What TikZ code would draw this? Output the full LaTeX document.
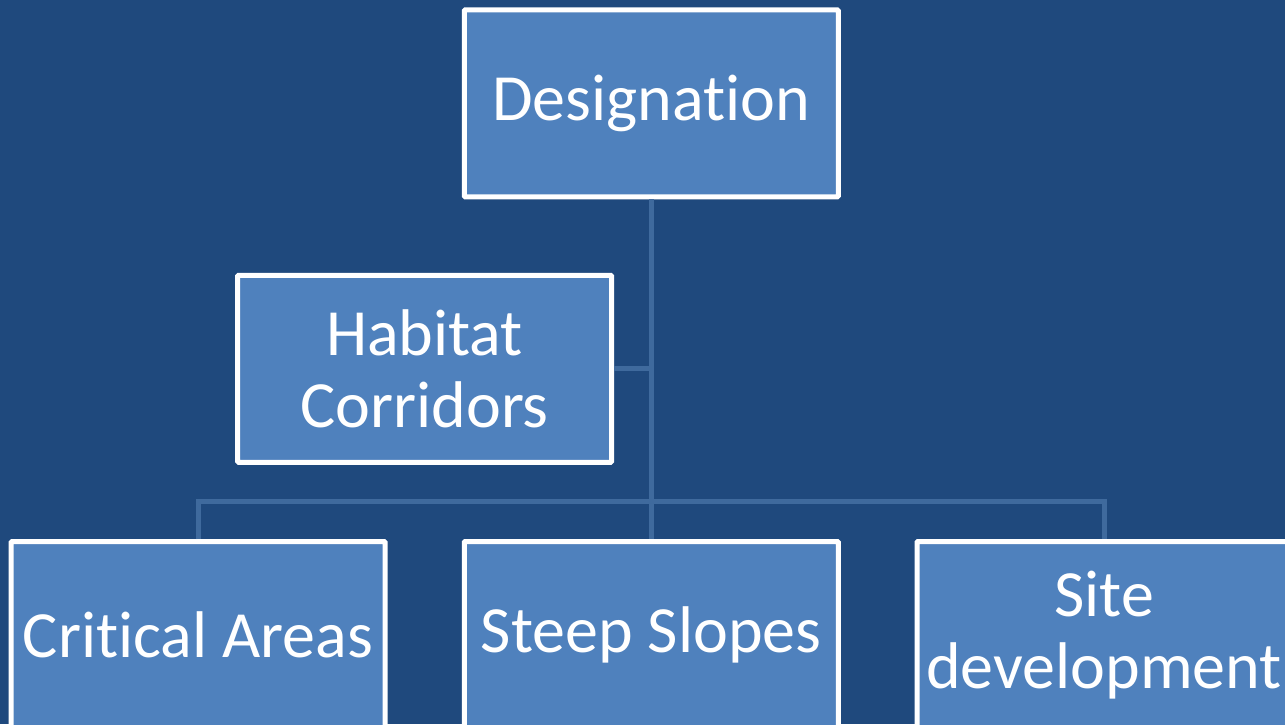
\documentclass[tikz,border=0pt]{standalone}
\usepackage{fontspec}
\setmainfont[Ligatures=CommonOff]{Carlito}
\definecolor{bgblue}{HTML}{1F497D}
\definecolor{boxblue}{HTML}{4F81BD}
\definecolor{connblue}{HTML}{3F6A9D}
\tikzset{
  orgbox/.style={draw=white, fill=boxblue, line width=5pt, minimum width=374pt,
    minimum height=187pt, inner sep=0pt, text=white, align=center,
    font=\fontsize{66}{72.6}\selectfont, rounded corners=1pt},
  conn/.style={draw=connblue, line width=5pt}
}
\begin{document}
\begin{tikzpicture}[x=1pt,y=-1pt]
\useasboundingbox (0,0) rectangle (1285,724);
\fill[bgblue] (0,0) rectangle (1285,724);
\clip (0,0) rectangle (1285,724);
\coordinate (bus) at (651.25,501.7);
\node[orgbox] (des) at (651.25,103.3) {Designation};
\node[orgbox] (hab) at (424.6,368.8) {Habitat\\Corridors};
\node[orgbox] (crit) at (198.1,635) {Critical Areas};
\node[orgbox] (steep) at (651.25,635) {Steep Slopes};
\node[orgbox] (site) at (1104,635) {Site\\development};
\draw[conn] (des.south) -- (steep.north);
\draw[conn] (hab.east) -- (hab.east -| des.south);
\draw[conn] (crit.north) |- (bus) -| (site.north);
\end{tikzpicture}
\end{document}
